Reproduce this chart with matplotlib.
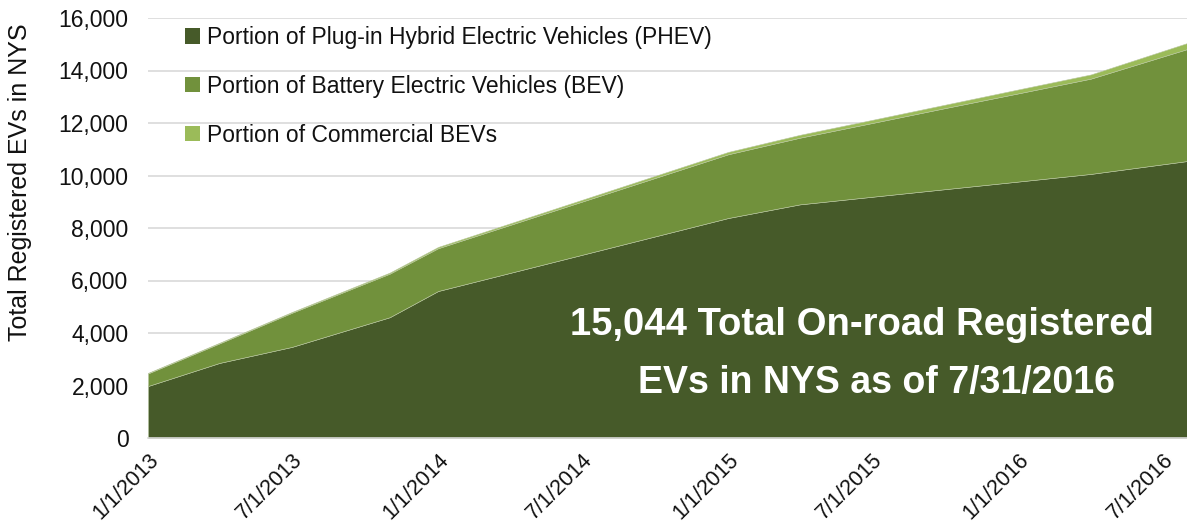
import matplotlib
matplotlib.use("Agg")
import matplotlib.pyplot as plt
import matplotlib.dates as mdates
from matplotlib.patches import Patch
from matplotlib.ticker import FuncFormatter, FixedLocator
import numpy as np
import datetime as dt

plt.rcParams['font.family'] = ['Liberation Sans', 'DejaVu Sans']

# ---- data ----
dates = ["2013-01-01", "2013-04-01", "2013-07-01", "2013-11-01", "2014-01-01",
         "2015-01-01", "2015-04-01", "2015-07-01", "2015-10-01", "2016-01-01",
         "2016-04-01", "2016-07-31"]
phev = [1980, 2860, 3470, 4600, 5600, 8381, 8900, 9190, 9480, 9770, 10060, 10550]
bev = [480, 745, 1300, 1660, 1630, 2429, 2540, 2810, 3090, 3360, 3630, 4264]
commercial = [20, 25, 30, 40, 50, 90, 110, 120, 130, 150, 160, 230]
series_labels = ["Portion of Plug-in Hybrid Electric Vehicles (PHEV)",
                 "Portion of Battery Electric Vehicles (BEV)",
                 "Portion of Commercial BEVs"]
tick_dates = ["2013-01-01", "2013-07-01", "2014-01-01", "2014-07-01",
              "2015-01-01", "2015-07-01", "2016-01-01", "2016-07-01"]
tick_labels = ["1/1/2013", "7/1/2013", "1/1/2014", "7/1/2014",
               "1/1/2015", "7/1/2015", "1/1/2016", "7/1/2016"]
annotation_lines = ["15,044 Total On-road Registered", "EVs in NYS as of 7/31/2016"]
ylabel = "Total Registered EVs in NYS"

colors = ["#465A29", "#71913C", "#9BBB59"]

W, H = 1187, 527
fig = plt.figure(figsize=(W / 100, H / 100), dpi=100)
ax = fig.add_axes([148 / W, 1 - 438 / H, (1187 - 148) / W, (438 - 18) / H])

x = mdates.date2num([dt.datetime.fromisoformat(d) for d in dates])
ax.stackplot(x, phev, bev, commercial, colors=colors,
             edgecolor="#b9c7a0", linewidth=0.4, zorder=2)

ax.set_xlim(x[0], x[-1])
ax.set_ylim(0, 16000)
ax.yaxis.set_major_locator(FixedLocator(np.arange(0, 16001, 2000)))
ax.yaxis.set_major_formatter(FuncFormatter(lambda v, p: f"{int(v):,}"))
ax.grid(axis="y", color="#D9D9D9", linewidth=1.2, zorder=0)
ax.set_axisbelow(True)

tx = mdates.date2num([dt.datetime.fromisoformat(d) for d in tick_dates])
ax.set_xticks(tx)
ax.set_xticklabels(tick_labels, rotation=45, ha="right", rotation_mode="anchor",
                   fontsize=15.5)
ax.tick_params(axis="both", length=0)
ax.tick_params(axis="x", pad=8)
ax.tick_params(axis="y", labelsize=16.5, pad=14)
for lbl in ax.get_xticklabels() + ax.get_yticklabels():
    lbl.set_color("#111111")

for s in ["top", "right", "left"]:
    ax.spines[s].set_visible(False)
ax.spines["bottom"].set_color("#D9D9D9")
ax.spines["bottom"].set_linewidth(1.2)

fig.text(20 / W, 1 - 182 / H, ylabel, rotation=90, ha="center", va="center",
         fontsize=18, color="#111111")

handles = [Patch(facecolor=c, edgecolor="none") for c in colors]
leg = ax.legend(handles, series_labels, loc="upper left",
                bbox_to_anchor=(185 / W, 1 - 26 / H), bbox_transform=fig.transFigure,
                frameon=False, fontsize=16.5, handlelength=0.65, handleheight=0.65,
                handletextpad=0.3, labelspacing=1.13, borderaxespad=0, borderpad=0)
for t in leg.get_texts():
    t.set_color("#111111")

fig.text(862 / W, 1 - 325 / H, annotation_lines[0], ha="center", va="center",
         fontsize=27.5, fontweight="bold", color="white")
fig.text(876 / W, 1 - 383 / H, annotation_lines[1], ha="center", va="center",
         fontsize=27, fontweight="bold", color="white")

fig.savefig("out.png", dpi=100)
